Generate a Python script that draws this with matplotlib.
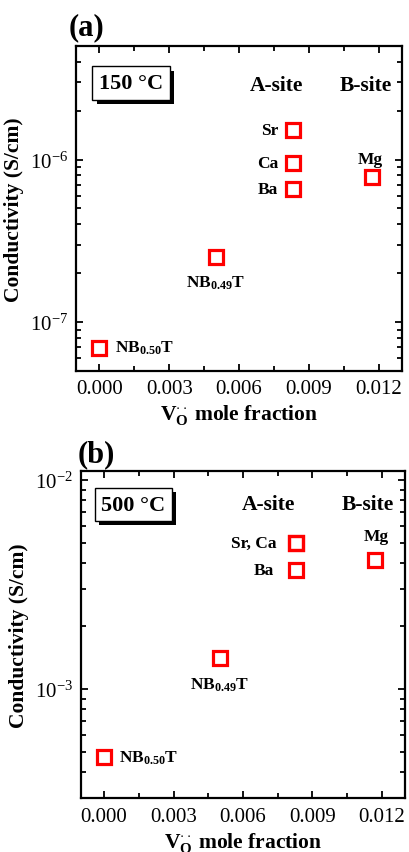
import matplotlib
matplotlib.use("Agg")
import matplotlib.pyplot as plt
import matplotlib.patheffects as pe
from matplotlib.ticker import LogLocator, LogFormatterMathtext, MultipleLocator, FormatStrFormatter

plt.rcParams['font.family'] = ['Liberation Serif', 'DejaVu Serif']
plt.rcParams['mathtext.fontset'] = 'custom'
plt.rcParams['mathtext.rm'] = 'Liberation Serif'
plt.rcParams['mathtext.bf'] = 'Liberation Serif:bold'
plt.rcParams['mathtext.it'] = 'Liberation Serif:italic'
plt.rcParams['axes.unicode_minus'] = False

# vacancy mole fraction for each sample
labels = ['NB0.50T', 'NB0.49T', 'Sr', 'Ca', 'Ba', 'Mg']
vac_frac = [0.0, 0.0050, 0.0083, 0.0083, 0.0083, 0.0117]

# conductivity (S/cm)
cond_150 = [6.95e-8, 2.51e-7, 1.52e-6, 9.5e-7, 6.6e-7, 7.8e-7]
cond_500 = [4.72e-4, 1.41e-3, 4.98e-3, 4.98e-3, 3.69e-3, 4.12e-3]

fig = plt.figure(figsize=(4.09, 8.53), dpi=100)
ax_a = fig.add_axes([0.186, 0.5639, 0.797, 0.381])
ax_b = fig.add_axes([0.198, 0.0630, 0.792, 0.3833])

RED = '#ff0000'


def style_axis(ax, ylim):
    ax.set_yscale('log')
    ax.set_xlim(-0.001, 0.013)
    ax.set_ylim(*ylim)
    for s in ax.spines.values():
        s.set_linewidth(1.6)
    ax.xaxis.set_major_locator(MultipleLocator(0.003))
    ax.xaxis.set_minor_locator(MultipleLocator(0.0015))
    ax.xaxis.set_major_formatter(FormatStrFormatter('%.3f'))
    ax.yaxis.set_major_locator(LogLocator(base=10))
    ax.yaxis.set_minor_locator(LogLocator(base=10, subs=range(2, 10)))
    ax.yaxis.set_major_formatter(LogFormatterMathtext())
    ax.tick_params(which='both', direction='in', top=True, right=True, width=1.3)
    ax.tick_params(which='major', length=5, labelsize=15, pad=6)
    ax.tick_params(which='minor', length=3.5)
    ax.set_ylabel('Conductivity (S/cm)', fontsize=15.5, fontweight='bold', labelpad=4)
    ax.set_xlabel(r'$\mathbf{V}_{\mathbf{O}}^{\cdot\cdot}$ mole fraction',
                  fontsize=15.5, fontweight='bold', labelpad=3)


def nb_label(x):
    return x.replace('NB0.50T', r'$\mathbf{NB_{0.50}T}$').replace('NB0.49T', r'$\mathbf{NB_{0.49}T}$')


def temp_box(ax, txt, xy):
    t = ax.text(xy[0], xy[1], txt, transform=ax.transAxes, fontsize=16, fontweight='bold',
                ha='center', va='center',
                bbox=dict(boxstyle='square,pad=0.3', fc='white', ec='black', lw=1.0))
    t.get_bbox_patch().set_path_effects([
        pe.SimplePatchShadow(offset=(3, -3), shadow_rgbFace='black', alpha=1.0),
        pe.Normal()])


# ---- panel (a), 150 C ----
ax = ax_a
style_axis(ax, (5e-8, 5e-6))
ax.plot(vac_frac, cond_150, ls='none', marker='s', ms=10, mfc='none', mec=RED, mew=2.3, clip_on=False)
offs_a = {'NB0.50T': ((11, 0), 'left', 'center'),
          'NB0.49T': ((0, -12), 'center', 'top'),
          'Sr': ((-10.5, 0), 'right', 'center'),
          'Ca': ((-10, 0), 'right', 'center'),
          'Ba': ((-10.5, 0), 'right', 'center'),
          'Mg': ((-1, 10.5), 'center', 'baseline')}
for lab, x, y in zip(labels, vac_frac, cond_150):
    off, ha, va = offs_a[lab]
    ax.annotate(nb_label(lab), (x, y), xytext=off, textcoords='offset points',
                ha=ha, va=va, fontsize=12.5, fontweight='bold')
temp_box(ax, '150 °C', (0.169, 0.886))
ax.text(0.00762, 2.88e-6, 'A-site', ha='center', va='center', fontsize=15.5, fontweight='bold')
ax.text(0.01143, 2.88e-6, 'B-site', ha='center', va='center', fontsize=15.5, fontweight='bold')
fig.text(0.168, 0.967, '(a)', fontsize=22, fontweight='bold', va='center', ha='left')

# ---- panel (b), 500 C ----
ax = ax_b
style_axis(ax, (3.0e-4, 1.1e-2))
ax.plot(vac_frac, cond_500, ls='none', marker='s', ms=10, mfc='none', mec=RED, mew=2.3, clip_on=False)
offs_b = {'NB0.50T': ((11, 0), 'left', 'center'),
          'NB0.49T': ((0, -13), 'center', 'top'),
          'Ca': ((-14, 0), 'right', 'center'),
          'Ba': ((-16, 0), 'right', 'center'),
          'Mg': ((1, 14.5), 'center', 'baseline')}
for lab, x, y in zip(labels, vac_frac, cond_500):
    if lab == 'Sr':
        continue
    off, ha, va = offs_b[lab]
    txt = 'Sr, Ca' if lab == 'Ca' else nb_label(lab)
    ax.annotate(txt, (x, y), xytext=off, textcoords='offset points',
                ha=ha, va=va, fontsize=12.5, fontweight='bold')
temp_box(ax, '500 °C', (0.162, 0.898))
ax.text(0.00712, 7.67e-3, 'A-site', ha='center', va='center', fontsize=15.5, fontweight='bold')
ax.text(0.01139, 7.67e-3, 'B-site', ha='center', va='center', fontsize=15.5, fontweight='bold')
fig.text(0.19, 0.4666, '(b)', fontsize=22, fontweight='bold', va='center', ha='left')

fig.savefig('out.png', dpi=100)
